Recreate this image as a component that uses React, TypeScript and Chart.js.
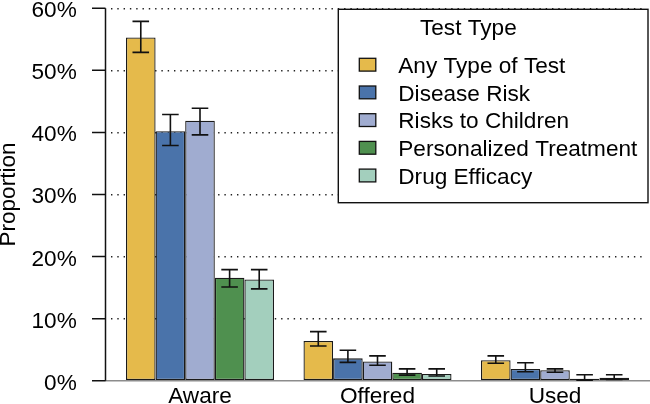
import React, { useEffect, useRef } from "react";
import { Chart, registerables } from "chart.js";

Chart.register(...registerables);

const FONT = '"Liberation Sans", Arial, Helvetica, sans-serif';
const FS = 22.6;

const categories = ["Aware", "Offered", "Used"];
const seriesNames = [
  "Any Type of Test",
  "Disease Risk",
  "Risks to Children",
  "Personalized Treatment",
  "Drug Efficacy",
];
const seriesColors = ["#E5BA4B", "#4A73AA", "#A0ACD0", "#4F904F", "#A3CFBD"];

// values in percent
const anyTest = [55.3, 6.4, 3.3];
const anyTestLow = [52.9, 5.6, 2.8];
const anyTestHigh = [57.9, 7.9, 4.0];

const diseaseRisk = [40.2, 3.6, 1.9];
const diseaseRiskLow = [37.9, 2.95, 1.45];
const diseaseRiskHigh = [42.9, 4.9, 2.9];

const risksChildren = [41.9, 3.1, 1.7];
const risksChildrenLow = [39.6, 2.5, 1.35];
const risksChildrenHigh = [43.9, 4.0, 1.9];

const personalized = [16.6, 1.3, 0.3];
const personalizedLow = [15.1, 0.9, 0.1];
const personalizedHigh = [17.9, 1.9, 0.96];

const drugEfficacy = [16.3, 1.08, 0.48];
const drugEfficacyLow = [14.8, 0.75, 0.22];
const drugEfficacyHigh = [17.9, 1.9, 0.96];

const seriesValues = [anyTest, diseaseRisk, risksChildren, personalized, drugEfficacy];
const seriesLow = [anyTestLow, diseaseRiskLow, risksChildrenLow, personalizedLow, drugEfficacyLow];
const seriesHigh = [anyTestHigh, diseaseRiskHigh, risksChildrenHigh, personalizedHigh, drugEfficacyHigh];

const yTicks = [0, 10, 20, 30, 40, 50, 60];
const yTitle = "Proportion";
const legendTitle = "Test Type";

const decorPlugin = {
  id: "decor",
  beforeDatasetsDraw(chart: any) {
    const { ctx, chartArea, scales } = chart;
    const y = scales.y;
    const y0 = y.getPixelForValue(0);
    ctx.save();
    ctx.strokeStyle = "#8c8c8c";
    ctx.lineWidth = 1.6;
    ctx.beginPath();
    ctx.moveTo(chartArea.left - 6, y0);
    ctx.lineTo(chart.width, y0);
    ctx.stroke();
    ctx.restore();
  },
  afterDatasetsDraw(chart: any) {
    const { ctx, chartArea, scales } = chart;
    const y = scales.y;
    ctx.save();
    // error bars
    ctx.strokeStyle = "#111";
    ctx.lineWidth = 1.6;
    chart.data.datasets.forEach((ds: any, i: number) => {
      const meta = chart.getDatasetMeta(i);
      meta.data.forEach((el: any, j: number) => {
        const lo = y.getPixelForValue(seriesLow[i][j]);
        const hi = y.getPixelForValue(seriesHigh[i][j]);
        const half = el.width * 0.28;
        ctx.beginPath();
        ctx.moveTo(el.x, lo);
        ctx.lineTo(el.x, hi);
        ctx.moveTo(el.x - half, lo);
        ctx.lineTo(el.x + half, lo);
        ctx.moveTo(el.x - half, hi);
        ctx.lineTo(el.x + half, hi);
        ctx.stroke();
      });
    });
    // y axis line and ticks
    const ax = chartArea.left - 5.75;
    ctx.strokeStyle = "#111";
    ctx.lineWidth = 1.5;
    ctx.beginPath();
    ctx.moveTo(ax, y.getPixelForValue(yTicks[0]));
    ctx.lineTo(ax, y.getPixelForValue(yTicks[yTicks.length - 1]));
    yTicks.forEach((v) => {
      const py = y.getPixelForValue(v);
      ctx.moveTo(ax - 13.5, py);
      ctx.lineTo(ax, py);
    });
    ctx.stroke();

    // legend
    const right = chart.width - 2;
    const left = right - 309.7;
    const top = chartArea.top + 1;
    const bottom = top + 193.4;
    ctx.fillStyle = "#fff";
    ctx.fillRect(left, top, right - left, bottom - top);
    ctx.strokeStyle = "#111";
    ctx.lineWidth = 1.4;
    ctx.strokeRect(left, top, right - left, bottom - top);
    ctx.fillStyle = "#000";
    ctx.font = `${FS}px ${FONT}`;
    ctx.textAlign = "left";
    ctx.textBaseline = "alphabetic";
    ctx.fillText(legendTitle, left + 81.7, top + 25.7);
    chart.data.datasets.forEach((ds: any, i: number) => {
      const cy = top + 55.4 + i * 27.7;
      ctx.fillStyle = ds.backgroundColor;
      ctx.fillRect(left + 21, cy - 6.4, 16.5, 12.8);
      ctx.strokeStyle = "#111";
      ctx.lineWidth = 1.3;
      ctx.strokeRect(left + 21, cy - 6.4, 16.5, 12.8);
      ctx.fillStyle = "#000";
      ctx.fillText(ds.label, left + 60, cy + 8.1);
    });
    ctx.restore();
  },
};

export default function App() {
  const ref = useRef<HTMLCanvasElement | null>(null);
  useEffect(() => {
    if (!ref.current) return;
    const chart = new Chart(ref.current, {
      type: "bar",
      data: {
        labels: categories,
        datasets: seriesNames.map((name, i) => ({
          label: name,
          data: seriesValues[i],
          backgroundColor: seriesColors[i],
          borderColor: "#1a1a1a",
          borderWidth: 1.3,
          borderSkipped: false,
          categoryPercentage: 0.834,
          barPercentage: 1,
        })),
      },
      options: {
        responsive: false,
        maintainAspectRatio: false,
        animation: false,
        layout: { padding: { top: 8.3, right: 6.25, left: 0, bottom: 0 } },
        plugins: { legend: { display: false }, tooltip: { enabled: false } },
        scales: {
          x: {
            type: "category",
            offset: true,
            grid: { display: false, drawTicks: false },
            border: { display: false },
            ticks: {
              font: { family: FONT, size: FS },
              color: "#000",
              padding: 2.1,
              maxRotation: 0,
              autoSkip: false,
            },
            afterFit(s: any) {
              s.height = 23.3;
              s.paddingLeft = 0;
              s.paddingRight = 0;
            },
          },
          y: {
            type: "linear",
            min: yTicks[0],
            max: yTicks[yTicks.length - 1],
            afterBuildTicks(s: any) {
              s.ticks = yTicks.map((v) => ({ value: v }));
            },
            grid: {
              drawTicks: false,
              color: (c: any) => (c.tick && c.tick.value === 0 ? "rgba(0,0,0,0)" : "#222"),
              lineWidth: 1.4,
            },
            border: { display: false, dash: [1.4, 4.9] },
            ticks: {
              font: { family: FONT, size: FS },
              color: "#000",
              padding: 34.5,
              labelOffset: 2.7,
              callback: (v: any) => `${v}%`,
            },
            title: {
              display: true,
              text: yTitle,
              font: { family: FONT, size: FS, lineHeight: 18 / FS },
              color: "#000",
              padding: 0,
            },
            afterFit(s: any) {
              s.width = 111.25;
              s.paddingTop = 0;
              s.paddingBottom = 0;
            },
          },
        },
      },
      plugins: [decorPlugin],
    });
    return () => chart.destroy();
  }, []);
  return (
    <div style={{ position: "fixed", left: 0, top: 0, width: 650, height: 404, background: "#fff" }}>
      <canvas ref={ref} width={650} height={404} style={{ display: "block" }} />
    </div>
  );
}
